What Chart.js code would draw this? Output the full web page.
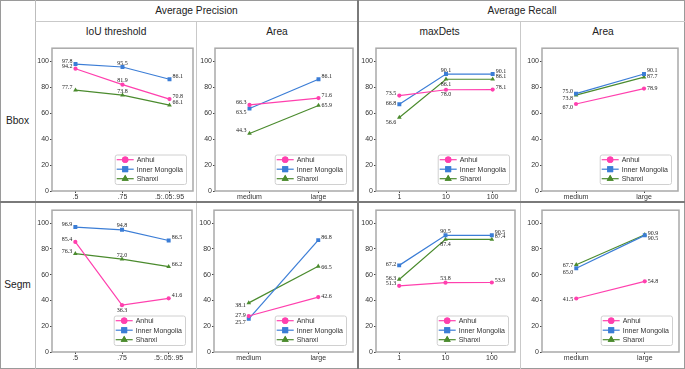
<!DOCTYPE html>
<html>
<head>
<meta charset="utf-8">
<script src="https://cdn.jsdelivr.net/npm/chart.js@4"></script>
<style>
  body { margin: 0; background: #fff; }
  #wrap { position: relative; width: 685px; height: 369px; overflow: hidden;
          font-family: "Liberation Sans", Arial, sans-serif; color: #222; }
  .ln { position: absolute; background: #c9c9c9; }
  .hd { position: absolute; text-align: center; font-size: 10.2px; height: 20px; line-height: 20px; }
  canvas { position: absolute; }
</style>
</head>
<body>
<div id="wrap">
  <div style="position:absolute;left:0;top:0;width:685px;height:369px;border:1px solid #9a9a9a;box-sizing:border-box;"></div>
  <div class="ln" style="left:35px;top:0;width:1px;height:369px;background:#bdbdbd;"></div>
  <div class="ln" style="left:35px;top:21px;width:650px;height:1px;"></div>
  <div class="ln" style="left:196px;top:21px;width:1px;height:348px;"></div>
  <div class="ln" style="left:520px;top:21px;width:1px;height:348px;"></div>
  <div class="ln" style="left:357px;top:0;width:2px;height:369px;background:#7a7a7a;"></div>
  <div class="ln" style="left:0;top:201px;width:685px;height:2px;background:#7a7a7a;"></div>

  <div class="hd" style="left:36px;top:1px;width:321px;">Average Precision</div>
  <div class="hd" style="left:359px;top:1px;width:326px;">Average Recall</div>
  <div class="hd" style="left:36px;top:22px;width:160px;">IoU threshold</div>
  <div class="hd" style="left:197px;top:22px;width:160px;">Area</div>
  <div class="hd" style="left:359px;top:22px;width:161px;">maxDets</div>
  <div class="hd" style="left:521px;top:22px;width:164px;">Area</div>
  <div class="hd" style="left:0;top:111px;width:35px;">Bbox</div>
  <div class="hd" style="left:0;top:275px;width:35px;">Segm</div>

  <canvas id="c1"></canvas><canvas id="c2"></canvas><canvas id="c3"></canvas><canvas id="c4"></canvas>
  <canvas id="c5"></canvas><canvas id="c6"></canvas><canvas id="c7"></canvas><canvas id="c8"></canvas>
</div>
<script>
// categories / tick labels
const regions = ["Anhui", "Inner Mongolia", "Shanxi"];
const iouLabels = [".5", ".75", ".5:.05:.95"];
const areaLabels = ["medium", "large"];
const maxDetsLabels = ["1", "10", "100"];
const yTicks = [0, 20, 40, 60, 80, 100];

// Bbox - Average Precision
const bboxIouAnhui = [94.2, 81.9, 70.8];
const bboxIouMongolia = [97.8, 95.5, 86.1];
const bboxIouShanxi = [77.7, 73.8, 66.1];
const bboxApAreaAnhui = [66.3, 71.6];
const bboxApAreaMongolia = [63.5, 86.1];
const bboxApAreaShanxi = [44.3, 65.9];
// Bbox - Average Recall
const bboxDetsAnhui = [73.5, 78.0, 78.1];
const bboxDetsMongolia = [66.8, 90.1, 90.1];
const bboxDetsShanxi = [56.6, 86.1, 86.1];
const bboxArAreaAnhui = [67.0, 78.9];
const bboxArAreaMongolia = [75.0, 90.1];
const bboxArAreaShanxi = [73.8, 87.7];
// Segm - Average Precision
const segmIouAnhui = [85.4, 36.3, 41.6];
const segmIouMongolia = [96.9, 94.8, 86.5];
const segmIouShanxi = [76.3, 72.0, 66.2];
const segmApAreaAnhui = [27.9, 42.6];
const segmApAreaMongolia = [25.7, 86.8];
const segmApAreaShanxi = [38.1, 66.5];
// Segm - Average Recall
const segmDetsAnhui = [51.3, 53.8, 53.9];
const segmDetsMongolia = [67.2, 90.5, 90.5];
const segmDetsShanxi = [56.3, 87.4, 87.4];
const segmArAreaAnhui = [41.5, 54.8];
const segmArAreaMongolia = [65.0, 90.5];
const segmArAreaShanxi = [67.7, 90.9];

const colors = ["#ff40ae", "#3b7dd6", "#4b8b2e"];
const markers = ["circle", "rect", "triangle"];
const markerSize = [2.1, 2.8, 2.7];

// plot boxes [left, top, right, bottom] in page pixels;
// below: middle labels put under the point; nudge: extra vertical shift (px) of a label, key "series-point"
const panels = [
  { id: "c1", box: [52, 46, 193, 191], labels: iouLabels, series: [bboxIouAnhui, bboxIouMongolia, bboxIouShanxi],
    below: [], nudge: {} },
  { id: "c2", box: [215, 46, 353, 191], labels: areaLabels, series: [bboxApAreaAnhui, bboxApAreaMongolia, bboxApAreaShanxi],
    below: [], nudge: { "1-0": 6, "2-1": 2.5 } },
  { id: "c3", box: [376, 46, 516, 191], labels: maxDetsLabels, series: [bboxDetsAnhui, bboxDetsMongolia, bboxDetsShanxi],
    below: ["0-1", "2-1"], nudge: { "2-0": 7, "1-0": 2 } },
  { id: "c4", box: [542, 46, 678, 191], labels: areaLabels, series: [bboxArAreaAnhui, bboxArAreaMongolia, bboxArAreaShanxi],
    below: [], nudge: { "1-0": 0.5, "2-0": 5.5, "0-0": 5.5, "1-1": -1, "2-1": 1.5, "0-1": 2 } },
  { id: "c5", box: [52, 208, 192, 352], labels: iouLabels, series: [segmIouAnhui, segmIouMongolia, segmIouShanxi],
    below: ["0-1"], nudge: {} },
  { id: "c6", box: [214, 208, 353, 352], labels: areaLabels, series: [segmApAreaAnhui, segmApAreaMongolia, segmApAreaShanxi],
    below: [], nudge: { "2-0": 5.5, "1-0": 6, "0-0": 2, "2-1": 3.5, "0-1": 2 } },
  { id: "c7", box: [376, 208, 515, 352], labels: maxDetsLabels, series: [segmDetsAnhui, segmDetsMongolia, segmDetsShanxi],
    below: ["2-1"], nudge: { "1-0": 1.5, "2-0": 1.5 } },
  { id: "c8", box: [542, 208, 679, 352], labels: areaLabels, series: [segmArAreaAnhui, segmArAreaMongolia, segmArAreaShanxi],
    below: [], nudge: { "2-0": 3, "1-0": 6.5, "0-0": 3.5, "2-1": 1.5, "1-1": 6, "0-1": 3 } }
];

const AXW = 30, AXH = 14, PADT = 3, PADR = 5;
const tickFont = { family: "'Liberation Sans', Arial, sans-serif", size: 7 };

// grey frame round the plot area
const frame = {
  id: "frame",
  afterDraw(chart) {
    const a = chart.chartArea, ctx = chart.ctx;
    ctx.save();
    ctx.strokeStyle = "#a9a9a9";
    ctx.lineWidth = 1.5;
    ctx.strokeRect(a.left, a.top, a.right - a.left, a.bottom - a.top);
    ctx.restore();
  }
};

// value next to each point
const valueLabels = {
  id: "valueLabels",
  afterDatasetsDraw(chart, args, opts) {
    const ctx = chart.ctx;
    ctx.save();
    ctx.font = "6px 'Liberation Serif', 'DejaVu Serif', serif";
    ctx.fillStyle = "#222";
    chart.data.datasets.forEach((ds, di) => {
      const meta = chart.getDatasetMeta(di);
      const n = ds.data.length;
      meta.data.forEach((pt, i) => {
        const key = di + "-" + i;
        const txt = ds.data[i].toFixed(1);
        let x = pt.x, y = pt.y;
        if (i === 0) {
          ctx.textAlign = "right"; ctx.textBaseline = "alphabetic"; x -= 3; y -= 1;
        } else if (i === n - 1) {
          ctx.textAlign = "left"; ctx.textBaseline = "alphabetic"; x += 3; y -= 1;
        } else if (opts.below.includes(key)) {
          ctx.textAlign = "center"; ctx.textBaseline = "top"; y += 2;
        } else {
          ctx.textAlign = "center"; ctx.textBaseline = "alphabetic"; y -= 2.5;
        }
        y += opts.nudge[key] || 0;
        ctx.fillText(txt, x, y);
      });
    });
    ctx.restore();
  }
};

// legend box in the lower right corner of the plot
const cornerLegend = {
  id: "cornerLegend",
  afterDraw(chart) {
    const a = chart.chartArea, ctx = chart.ctx;
    const rowH = 9.5, sample = 17;
    ctx.save();
    ctx.font = "7px 'Liberation Sans', Arial, sans-serif";
    const tw = Math.max(...chart.data.datasets.map(d => ctx.measureText(d.label).width));
    const w = 2 + sample + 3 + tw + 3;
    const h = rowH * chart.data.datasets.length + 1;
    const x0 = a.right - 7 - w, y0 = a.bottom - 7 - h;
    ctx.fillStyle = "rgba(255,255,255,0.85)";
    ctx.strokeStyle = "#d0d0d0";
    ctx.lineWidth = 1;
    ctx.beginPath();
    ctx.roundRect(x0 + 0.5, y0 + 0.5, w, h, 2);
    ctx.fill();
    ctx.stroke();
    chart.data.datasets.forEach((ds, i) => {
      const cy = y0 + 5.2 + i * rowH;
      ctx.strokeStyle = ds.borderColor;
      ctx.lineWidth = 1.2;
      ctx.beginPath();
      ctx.moveTo(x0 + 2, cy);
      ctx.lineTo(x0 + 2 + sample, cy);
      ctx.stroke();
      ctx.fillStyle = ds.borderColor;
      Chart.helpers.drawPoint(ctx, { pointStyle: ds.pointStyle, radius: ds.pointRadius * 1.5, borderWidth: 0 }, x0 + 2 + sample / 2, cy);
      ctx.fill();
      ctx.fillStyle = "#333";
      ctx.textAlign = "left";
      ctx.textBaseline = "middle";
      ctx.fillText(ds.label, x0 + 2 + sample + 3, cy + 0.5);
    });
    ctx.restore();
  }
};

panels.forEach(p => {
  const [l, t, r, b] = p.box;
  const cv = document.getElementById(p.id);
  const w = (r - l) + AXW + PADR, h = (b - t) + PADT + AXH;
  cv.width = w; cv.height = h;
  cv.style.left = (l - AXW) + "px";
  cv.style.top = (t - PADT) + "px";
  cv.style.width = w + "px";
  cv.style.height = h + "px";

  new Chart(cv.getContext("2d"), {
    type: "line",
    data: {
      labels: p.labels,
      datasets: p.series.map((s, i) => ({
        label: regions[i],
        data: s,
        borderColor: colors[i],
        backgroundColor: colors[i],
        borderWidth: 1.2,
        pointStyle: markers[i],
        pointRadius: markerSize[i],
        pointBorderWidth: 0,
        tension: 0,
        fill: false
      }))
    },
    options: {
      responsive: false,
      animation: false,
      devicePixelRatio: 1,
      layout: { autoPadding: false, padding: { top: PADT, right: PADR, left: 0, bottom: 0 } },
      plugins: {
        legend: { display: false },
        tooltip: { enabled: false },
        valueLabels: { below: p.below, nudge: p.nudge }
      },
      scales: {
        x: {
          type: "category",
          offset: true,
          afterFit: s => { s.height = AXH; },
          grid: { drawOnChartArea: false, drawTicks: true, tickLength: 2, color: "#444" },
          border: { display: false },
          ticks: { color: "#333", font: tickFont, padding: 0, maxRotation: 0, autoSkip: false }
        },
        y: {
          min: 0, max: 110,
          afterFit: s => { s.width = AXW; },
          afterBuildTicks: s => { s.ticks = yTicks.map(v => ({ value: v })); },
          grid: { drawOnChartArea: false, drawTicks: true, tickLength: 2, color: "#444" },
          border: { display: false },
          ticks: { color: "#333", font: tickFont, padding: 1 }
        }
      }
    },
    plugins: [frame, valueLabels, cornerLegend]
  });
});
</script>
</body>
</html>
